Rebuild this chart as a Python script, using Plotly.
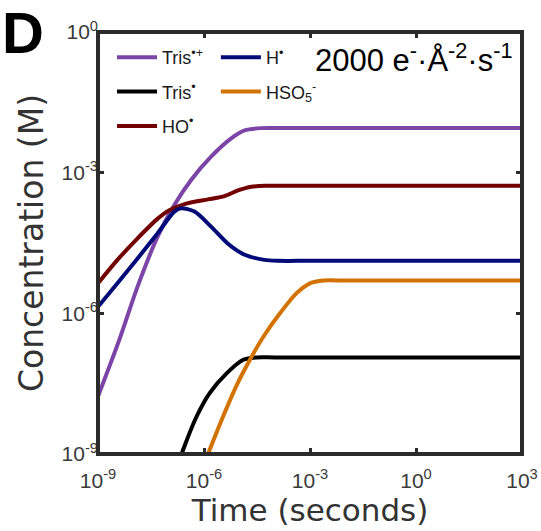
import plotly.graph_objects as go

# ---- data (log10 values) ----
tris_rad_cat_logt = [-9.0, -8.40, -7.88, -7.31, -6.84, -6.37, -5.80, -5.23, -4.85, -4.40, -3.6, 0.0, 3.0]
tris_rad_cat_logc = [-7.77, -6.57, -5.43, -4.36, -3.69, -3.16, -2.66, -2.27, -2.10, -2.05, -2.05, -2.05, -2.05]

h_logt = [-9.0, -8.45, -7.88, -7.31, -6.84, -6.65, -6.27, -5.80, -5.33, -4.85, -4.29, -3.9, -3.0, 0.0, 3.0]
h_logc = [-5.86, -5.36, -4.83, -4.29, -3.83, -3.76, -3.83, -4.15, -4.51, -4.75, -4.86, -4.88, -4.88, -4.88, -4.88]

tris_rad_logt = [-6.9, -6.59, -6.21, -5.84, -5.36, -4.89, -4.51, -4.0, 0.0, 3.0]
tris_rad_logc = [-9.6, -8.91, -8.20, -7.70, -7.28, -6.99, -6.94, -6.94, -6.94, -6.94]

hso5_logt = [-6.2, -5.84, -5.46, -5.08, -4.70, -4.32, -3.85, -3.38, -3.00, -2.62, -2.0, 0.0, 3.0]
hso5_logc = [-9.6, -8.91, -8.20, -7.54, -6.99, -6.50, -6.00, -5.57, -5.36, -5.30, -5.30, -5.30, -5.30]

ho_logt = [-9.0, -8.45, -7.88, -7.31, -6.98, -6.55, -5.89, -5.42, -5.04, -4.66, -4.2, -3.0, 0.0, 3.0]
ho_logc = [-5.36, -4.86, -4.40, -3.98, -3.80, -3.67, -3.57, -3.50, -3.38, -3.30, -3.28, -3.28, -3.28, -3.28]

x_tickvals = [1e-9, 1e-6, 1e-3, 1e0, 1e3]
x_ticktext = ["10<sup>-9</sup>", "10<sup>-6</sup>", "10<sup>-3</sup>", "10<sup>0</sup>", "10<sup>3</sup>"]
y_tickvals = [1e-9, 1e-6, 1e-3, 1e0]
y_ticktext = ["10<sup>-9</sup>", "10<sup>-6</sup>", "10<sup>-3</sup>", "10<sup>0</sup>"]

def p10(v):
    return [10 ** a for a in v]

series = [
    # name, logt, logc, color, legend
    ("Tris<sup>•+</sup>", tris_rad_cat_logt, tris_rad_cat_logc, "#7B44A6", "legend"),
    ("Tris<sup>•</sup>", tris_rad_logt, tris_rad_logc, "#000000", "legend"),
    ("HO<sup>•</sup>", ho_logt, ho_logc, "#720000", "legend"),
    ("H<sup>•</sup>", h_logt, h_logc, "#000B78", "legend2"),
    ("HSO<sub>5</sub><sup>-</sup>", hso5_logt, hso5_logc, "#D27200", "legend2"),
]

FONT = "Liberation Sans, Arial, sans-serif"
AX = "#2b2b2b"
PW, PH = 424, 422

fig = go.Figure()
for i, (name, lt, lc, col, lg) in enumerate(series):
    fig.add_trace(go.Scatter(
        x=p10(lt), y=p10(lc), mode="lines", name=name,
        line=dict(color=col, width=4, shape="spline", smoothing=0.8),
        legend=lg, legendgroup="g%d" % i,
    ))

fig.update_layout(
    width=541, height=531,
    margin=dict(l=98, r=19, t=32, b=77, autoexpand=False),
    paper_bgcolor="white", plot_bgcolor="white",
    font=dict(family=FONT, color="#333333"),
    legend=dict(x=14 / PW, y=1 - 7 / PH, xanchor="left", yanchor="top",
                bgcolor="rgba(0,0,0,0)", font=dict(size=18, color="#1a1a1a"),
                tracegroupgap=8, itemwidth=40, traceorder="grouped"),
    legend2=dict(x=0.245 + 14 / PW, y=1 - 7 / PH, xanchor="left", yanchor="top",
                 bgcolor="rgba(0,0,0,0)", font=dict(size=18, color="#1a1a1a"),
                 tracegroupgap=8, itemwidth=40, traceorder="grouped"),
    showlegend=True,
)

fig.update_xaxes(
    type="log", range=[-9, 3], automargin=False,
    tickvals=x_tickvals, ticktext=x_ticktext,
    ticks="inside", ticklen=6, tickwidth=3, tickcolor=AX,
    mirror="ticks", showline=False, showgrid=False, zeroline=False,
    tickfont=dict(size=21, color="#3a3a3a"), ticklabelstandoff=12,
    title=dict(text="Time (seconds)", font=dict(size=31, color="#333333",
               family="DejaVu Sans, sans-serif"), standoff=5),
)
fig.update_yaxes(
    type="log", range=[-9, 0], automargin=False,
    tickvals=y_tickvals, ticktext=y_ticktext,
    ticks="inside", ticklen=6, tickwidth=3, tickcolor=AX,
    mirror="ticks", showline=False, showgrid=False, zeroline=False,
    tickfont=dict(size=21, color="#3a3a3a"), ticklabelstandoff=-1,
    title=dict(text="Concentration (M)", font=dict(size=33, color="#333333",
               family="DejaVu Sans, sans-serif"), standoff=8),
)

# frame
fig.add_shape(type="rect", xref="paper", yref="paper", x0=0, x1=1, y0=0, y1=1,
              line=dict(color=AX, width=4), layer="above")

fig.add_annotation(text="2000 e<sup>-</sup>·Å<sup>-2</sup>·s<sup>-1</sup>",
                   xref="paper", yref="paper", x=(514 - 98) / PW, y=1 - 4 / PH,
                   xanchor="right", yanchor="top", showarrow=False,
                   font=dict(size=31, color="#000000", family=FONT))
fig.add_annotation(text="<b>D</b>", xref="paper", yref="paper",
                   x=-98 / PW, y=1 + 34 / PH, xanchor="left", yanchor="top",
                   showarrow=False, font=dict(size=58, color="#000000", family=FONT))

fig.write_html("out.html", post_script="document.body.style.margin='0';",
               config={"displayModeBar": False})
